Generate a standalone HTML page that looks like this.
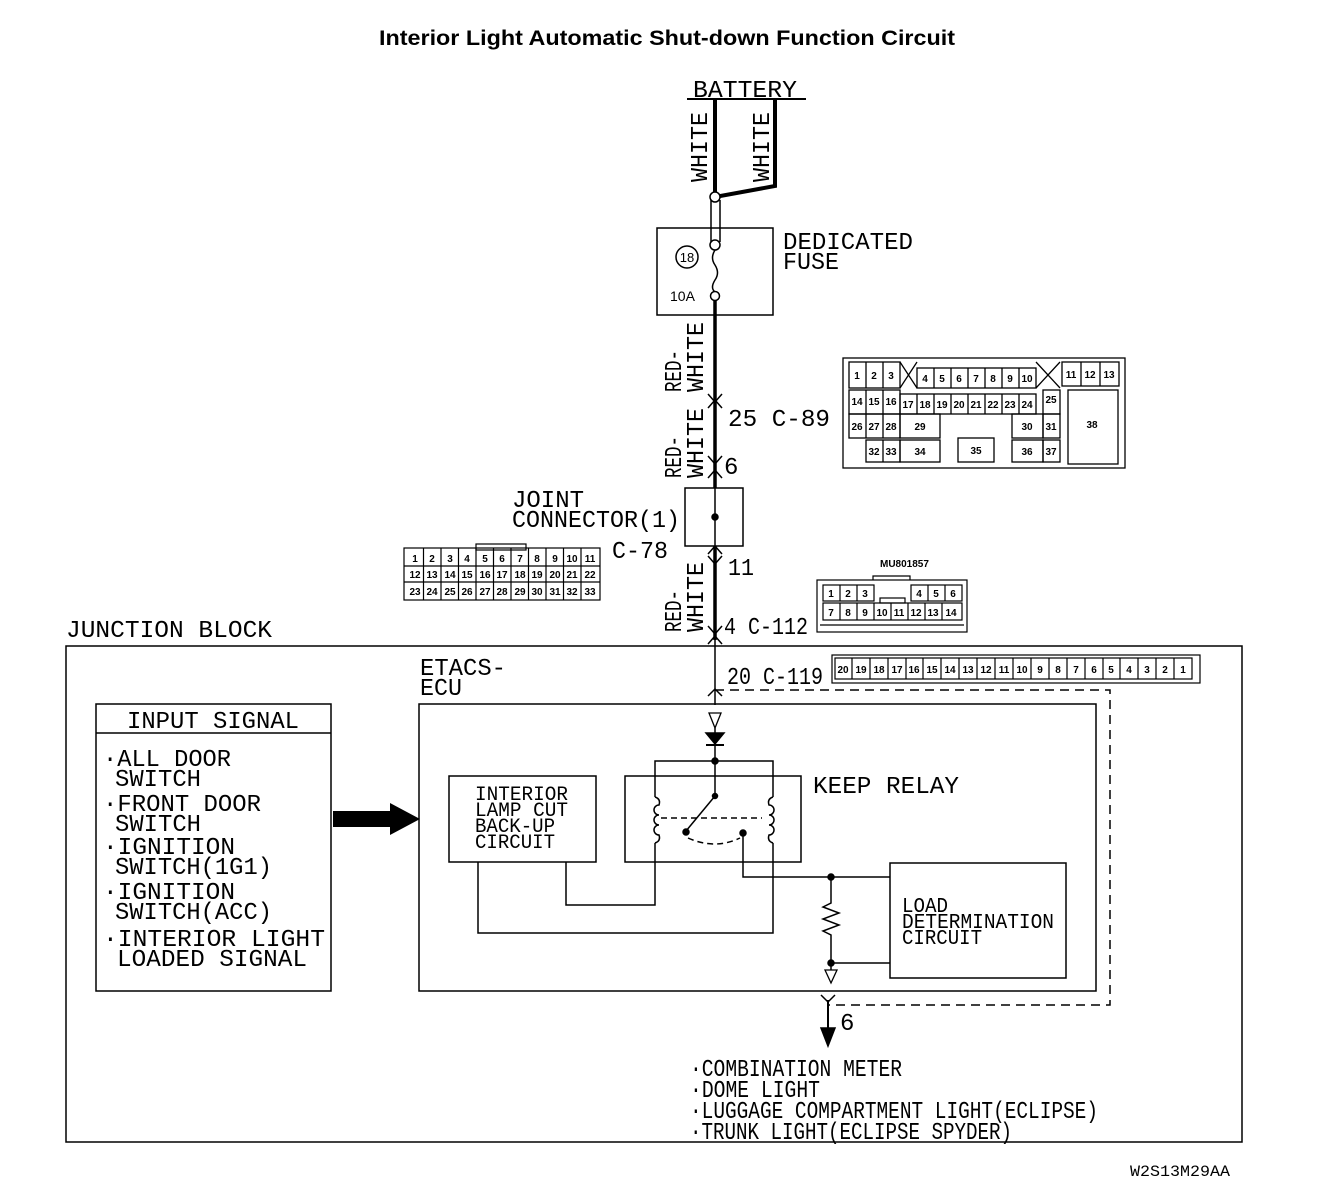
<!DOCTYPE html>
<html><head><meta charset="utf-8"><style>
html,body{margin:0;padding:0;background:#fff;}
svg{display:block;}
text{font-family:"Liberation Mono",monospace;fill:#000;}
.t{font-size:24px;}
.c{font-family:"Liberation Sans",sans-serif;font-size:10px;font-weight:bold;text-anchor:middle;}
</style></head><body>
<svg width="1328" height="1186" viewBox="0 0 1328 1186" xmlns="http://www.w3.org/2000/svg" fill="none" stroke="#000" stroke-width="1.5">
<text x="667" y="45" style="font-family:'Liberation Sans',sans-serif;font-size:21px;font-weight:bold;" text-anchor="middle" stroke="none" textLength="576" lengthAdjust="spacingAndGlyphs">Interior Light Automatic Shut-down Function Circuit</text>

<!-- battery -->
<text class="t" x="693" y="97" stroke="none" textLength="104" lengthAdjust="spacingAndGlyphs">BATTERY</text>
<line x1="687" y1="99" x2="806" y2="99" stroke-width="2"/>
<polyline points="715,99 715,197 775,186 775,99" stroke-width="4"/>
<text class="t" transform="translate(707,182) rotate(-90)" stroke="none" textLength="70" lengthAdjust="spacingAndGlyphs">WHITE</text>
<text class="t" transform="translate(769,182) rotate(-90)" stroke="none" textLength="70" lengthAdjust="spacingAndGlyphs">WHITE</text>
<line x1="711" y1="200" x2="711" y2="242"/><line x1="720" y1="200" x2="720" y2="242"/>
<circle cx="715" cy="197" r="5" fill="#fff"/><circle cx="715" cy="245" r="5" fill="#fff"/>
<!-- fuse -->
<rect x="657" y="228" width="116" height="87"/>
<circle cx="687" cy="257" r="11"/>
<text x="687" y="262" style="font-family:'Liberation Sans',sans-serif;font-size:13px" text-anchor="middle" stroke="none">18</text>
<text x="670" y="301" style="font-family:'Liberation Sans',sans-serif;font-size:14px" stroke="none">10A</text>
<path d="M715,250 q-5,8 0,15 q5,8 0,15 q-5,8 0,12"/>
<circle cx="715" cy="296" r="4.5" fill="#fff"/>
<text class="t" x="783" y="249" stroke="none" textLength="130" lengthAdjust="spacingAndGlyphs">DEDICATED</text>
<text class="t" x="783" y="269" stroke="none" textLength="56" lengthAdjust="spacingAndGlyphs">FUSE</text>

<!-- main wire -->
<line x1="715" y1="301" x2="715" y2="488" stroke-width="3.5"/>
<line x1="715" y1="546" x2="715" y2="640" stroke-width="3.5"/>
<line x1="715" y1="640" x2="715" y2="705" stroke-width="1.5"/>
<g stroke-width="1.5">
<polyline points="708,394 715,402 722,394"/><polyline points="708,408 715,400 722,408"/>
<polyline points="708,456 715,464 722,456"/><polyline points="708,478 715,470 722,478"/>
<polyline points="708,554 715,546 722,554"/><polyline points="708,556 715,564 722,556"/>
<polyline points="708,626 715,634 722,626"/><polyline points="708,644 715,636 722,644"/>
<polyline points="708,696 715,689 722,696"/>
</g>
<text class="t" transform="translate(681,392) rotate(-90)" stroke="none" textLength="42" lengthAdjust="spacingAndGlyphs">RED-</text>
<text class="t" transform="translate(703,392) rotate(-90)" stroke="none" textLength="70" lengthAdjust="spacingAndGlyphs">WHITE</text>
<text class="t" transform="translate(681,478) rotate(-90)" stroke="none" textLength="42" lengthAdjust="spacingAndGlyphs">RED-</text>
<text class="t" transform="translate(703,478) rotate(-90)" stroke="none" textLength="70" lengthAdjust="spacingAndGlyphs">WHITE</text>
<text class="t" transform="translate(681,632) rotate(-90)" stroke="none" textLength="42" lengthAdjust="spacingAndGlyphs">RED-</text>
<text class="t" transform="translate(703,632) rotate(-90)" stroke="none" textLength="70" lengthAdjust="spacingAndGlyphs">WHITE</text>
<text class="t" x="728" y="426" stroke="none" textLength="102" lengthAdjust="spacingAndGlyphs">25 C-89</text>
<text class="t" x="724" y="474" stroke="none">6</text>
<text class="t" x="728" y="575" stroke="none" textLength="26" lengthAdjust="spacingAndGlyphs">11</text>
<text class="t" x="724" y="634" stroke="none" textLength="84" lengthAdjust="spacingAndGlyphs">4 C-112</text>
<text class="t" x="727" y="684" stroke="none" textLength="96" lengthAdjust="spacingAndGlyphs">20 C-119</text>
<!-- joint connector -->
<rect x="685" y="488" width="58" height="58"/>
<circle cx="715" cy="517" r="3" fill="#000"/>
<line x1="715" y1="488" x2="715" y2="546"/>
<text class="t" x="512" y="507" stroke="none" textLength="72" lengthAdjust="spacingAndGlyphs">JOINT</text>
<text class="t" x="512" y="527" stroke="none" textLength="168" lengthAdjust="spacingAndGlyphs">CONNECTOR(1)</text>
<text class="t" x="612" y="558" stroke="none" textLength="56" lengthAdjust="spacingAndGlyphs">C-78</text>

<!-- C-89 connector -->
<g stroke-width="1.3">
<rect x="843" y="358" width="282" height="110"/>
<rect x="849" y="362" width="51" height="26"/><line x1="866" y1="362" x2="866" y2="388"/><line x1="883" y1="362" x2="883" y2="388"/>
<path d="M900,362 L917,388 M917,362 L900,388"/>
<rect x="917" y="368" width="119" height="20"/>
<line x1="934" y1="368" x2="934" y2="388"/><line x1="951" y1="368" x2="951" y2="388"/><line x1="968" y1="368" x2="968" y2="388"/><line x1="985" y1="368" x2="985" y2="388"/><line x1="1002" y1="368" x2="1002" y2="388"/><line x1="1019" y1="368" x2="1019" y2="388"/>
<path d="M1036,362 L1060,388 M1060,362 L1036,388"/>
<rect x="1062" y="362" width="57" height="24"/><line x1="1081" y1="362" x2="1081" y2="386"/><line x1="1100" y1="362" x2="1100" y2="386"/>
<rect x="849" y="390" width="51" height="24"/><line x1="866" y1="390" x2="866" y2="414"/><line x1="883" y1="390" x2="883" y2="414"/>
<rect x="900" y="394" width="136" height="20"/>
<line x1="917" y1="394" x2="917" y2="414"/><line x1="934" y1="394" x2="934" y2="414"/><line x1="951" y1="394" x2="951" y2="414"/><line x1="968" y1="394" x2="968" y2="414"/><line x1="985" y1="394" x2="985" y2="414"/><line x1="1002" y1="394" x2="1002" y2="414"/><line x1="1019" y1="394" x2="1019" y2="414"/>
<rect x="1043" y="390" width="17" height="24"/>
<rect x="1068" y="390" width="50" height="74"/>
<rect x="849" y="414" width="51" height="24"/><line x1="866" y1="414" x2="866" y2="438"/><line x1="883" y1="414" x2="883" y2="438"/>
<rect x="900" y="414" width="40" height="24"/><rect x="1012" y="414" width="31" height="24"/><rect x="1043" y="414" width="17" height="24"/>
<rect x="866" y="440" width="34" height="22"/><line x1="883" y1="440" x2="883" y2="462"/>
<rect x="900" y="440" width="40" height="22"/><rect x="958" y="438" width="36" height="24"/><rect x="1012" y="440" width="31" height="22"/><rect x="1043" y="440" width="17" height="22"/>
</g>
<g stroke="none">
<text class="c" x="857" y="379">1</text><text class="c" x="874" y="379">2</text><text class="c" x="891" y="379">3</text>
<text class="c" x="925" y="382">4</text><text class="c" x="942" y="382">5</text><text class="c" x="959" y="382">6</text><text class="c" x="976" y="382">7</text><text class="c" x="993" y="382">8</text><text class="c" x="1010" y="382">9</text><text class="c" x="1027" y="382">10</text>
<text class="c" x="1071" y="378">11</text><text class="c" x="1090" y="378">12</text><text class="c" x="1109" y="378">13</text>
<text class="c" x="857" y="405">14</text><text class="c" x="874" y="405">15</text><text class="c" x="891" y="405">16</text>
<text class="c" x="908" y="408">17</text><text class="c" x="925" y="408">18</text><text class="c" x="942" y="408">19</text><text class="c" x="959" y="408">20</text><text class="c" x="976" y="408">21</text><text class="c" x="993" y="408">22</text><text class="c" x="1010" y="408">23</text><text class="c" x="1027" y="408">24</text>
<text class="c" x="1051" y="403">25</text><text class="c" x="1092" y="428">38</text>
<text class="c" x="857" y="430">26</text><text class="c" x="874" y="430">27</text><text class="c" x="891" y="430">28</text>
<text class="c" x="920" y="430">29</text><text class="c" x="1027" y="430">30</text><text class="c" x="1051" y="430">31</text>
<text class="c" x="874" y="455">32</text><text class="c" x="891" y="455">33</text><text class="c" x="920" y="455">34</text><text class="c" x="976" y="454">35</text><text class="c" x="1027" y="455">36</text><text class="c" x="1051" y="455">37</text>
</g>

<!-- C-78 connector -->
<g stroke-width="1.2">
<rect x="476" y="544" width="50" height="6"/>
<rect x="404" y="548" width="196" height="52"/>
<line x1="404" y1="566" x2="600" y2="566"/><line x1="404" y1="582" x2="600" y2="582"/>
<path d="M423.5,548V600M441,548V600M458.5,548V600M476,548V600M493.5,548V600M511,548V600M528.5,548V600M546,548V600M563.5,548V600M581,548V600"/>
</g>
<g stroke="none">
<text class="c" x="415" y="562">1</text><text class="c" x="432" y="562">2</text><text class="c" x="450" y="562">3</text><text class="c" x="467" y="562">4</text><text class="c" x="485" y="562">5</text><text class="c" x="502" y="562">6</text><text class="c" x="520" y="562">7</text><text class="c" x="537" y="562">8</text><text class="c" x="555" y="562">9</text><text class="c" x="572" y="562">10</text><text class="c" x="590" y="562">11</text>
<text class="c" x="415" y="578">12</text><text class="c" x="432" y="578">13</text><text class="c" x="450" y="578">14</text><text class="c" x="467" y="578">15</text><text class="c" x="485" y="578">16</text><text class="c" x="502" y="578">17</text><text class="c" x="520" y="578">18</text><text class="c" x="537" y="578">19</text><text class="c" x="555" y="578">20</text><text class="c" x="572" y="578">21</text><text class="c" x="590" y="578">22</text>
<text class="c" x="415" y="595">23</text><text class="c" x="432" y="595">24</text><text class="c" x="450" y="595">25</text><text class="c" x="467" y="595">26</text><text class="c" x="485" y="595">27</text><text class="c" x="502" y="595">28</text><text class="c" x="520" y="595">29</text><text class="c" x="537" y="595">30</text><text class="c" x="555" y="595">31</text><text class="c" x="572" y="595">32</text><text class="c" x="590" y="595">33</text>
</g>

<!-- C-112 connector -->
<text x="880" y="567" class="c" style="font-size:10px;text-anchor:start" stroke="none">MU801857</text>
<g stroke-width="1.2">
<polyline points="873,580 873,576 910,576 910,580"/>
<rect x="817" y="580" width="150" height="52"/>
<rect x="823" y="585" width="51" height="16"/><line x1="840" y1="585" x2="840" y2="601"/><line x1="857" y1="585" x2="857" y2="601"/>
<rect x="911" y="585" width="51" height="16"/><line x1="928" y1="585" x2="928" y2="601"/><line x1="945" y1="585" x2="945" y2="601"/>
<rect x="880" y="598" width="25" height="5"/>
<rect x="823" y="603" width="139" height="17"/>
<path d="M840,603V620M857,603V620M874,603V620M891,603V620M908,603V620M925,603V620M942,603V620"/>
<line x1="820" y1="625" x2="964" y2="625"/>
</g>
<g stroke="none">
<text class="c" x="831" y="597">1</text><text class="c" x="848" y="597">2</text><text class="c" x="865" y="597">3</text>
<text class="c" x="919" y="597">4</text><text class="c" x="936" y="597">5</text><text class="c" x="953" y="597">6</text>
<text class="c" x="831" y="616">7</text><text class="c" x="848" y="616">8</text><text class="c" x="865" y="616">9</text><text class="c" x="882" y="616">10</text><text class="c" x="899" y="616">11</text><text class="c" x="916" y="616">12</text><text class="c" x="933" y="616">13</text><text class="c" x="951" y="616">14</text>
</g>

<!-- junction block -->
<text class="t" x="66" y="637" stroke="none" textLength="206" lengthAdjust="spacingAndGlyphs">JUNCTION BLOCK</text>
<rect x="66" y="646" width="1176" height="496"/>

<!-- C-119 connector -->
<g stroke-width="1.2">
<rect x="832" y="655" width="368" height="28"/>
<rect x="835" y="658" width="357" height="21"/>
<path d="M852,658V679M870,658V679M888,658V679M906,658V679M923,658V679M941,658V679M959,658V679M977,658V679M995,658V679M1013,658V679M1031,658V679M1049,658V679M1067,658V679M1085,658V679M1103,658V679M1120,658V679M1138,658V679M1156,658V679M1174,658V679"/>
</g>
<g stroke="none">
<text class="c" x="843" y="673">20</text><text class="c" x="861" y="673">19</text><text class="c" x="879" y="673">18</text><text class="c" x="897" y="673">17</text><text class="c" x="914" y="673">16</text><text class="c" x="932" y="673">15</text><text class="c" x="950" y="673">14</text><text class="c" x="968" y="673">13</text><text class="c" x="986" y="673">12</text><text class="c" x="1004" y="673">11</text><text class="c" x="1022" y="673">10</text><text class="c" x="1040" y="673">9</text><text class="c" x="1058" y="673">8</text><text class="c" x="1076" y="673">7</text><text class="c" x="1094" y="673">6</text><text class="c" x="1111" y="673">5</text><text class="c" x="1129" y="673">4</text><text class="c" x="1147" y="673">3</text><text class="c" x="1165" y="673">2</text><text class="c" x="1183" y="673">1</text>
</g>

<!-- ETACS ECU -->
<text class="t" x="420" y="675" stroke="none" textLength="86" lengthAdjust="spacingAndGlyphs">ETACS-</text>
<text class="t" x="420" y="695" stroke="none" textLength="42" lengthAdjust="spacingAndGlyphs">ECU</text>
<polyline points="715,690 1110,690 1110,1005 828,1005" stroke-dasharray="9,6"/>
<rect x="419" y="704" width="677" height="287"/>

<!-- input signal -->
<rect x="96" y="704" width="235" height="287"/>
<line x1="96" y1="733" x2="331" y2="733"/>
<text class="t" x="127" y="728" stroke="none" textLength="172" lengthAdjust="spacingAndGlyphs">INPUT SIGNAL</text>
<g stroke="none">
<text class="t" x="103" y="766" textLength="128" lengthAdjust="spacingAndGlyphs">·ALL DOOR</text>
<text class="t" x="115" y="786" textLength="86" lengthAdjust="spacingAndGlyphs">SWITCH</text>
<text class="t" x="103" y="811" textLength="158" lengthAdjust="spacingAndGlyphs">·FRONT DOOR</text>
<text class="t" x="115" y="831" textLength="86" lengthAdjust="spacingAndGlyphs">SWITCH</text>
<text class="t" x="103" y="854" textLength="132" lengthAdjust="spacingAndGlyphs">·IGNITION</text>
<text class="t" x="115" y="874" textLength="157" lengthAdjust="spacingAndGlyphs">SWITCH(1G1)</text>
<text class="t" x="103" y="899" textLength="132" lengthAdjust="spacingAndGlyphs">·IGNITION</text>
<text class="t" x="115" y="919" textLength="157" lengthAdjust="spacingAndGlyphs">SWITCH(ACC)</text>
<text class="t" x="103" y="946" textLength="222" lengthAdjust="spacingAndGlyphs">·INTERIOR LIGHT</text>
<text class="t" x="117" y="966" textLength="190" lengthAdjust="spacingAndGlyphs">LOADED SIGNAL</text>
</g>
<rect x="333" y="811" width="60" height="16" fill="#000" stroke="none"/>
<polygon points="390,803 420,819 390,835" fill="#000" stroke="none"/>

<!-- interior lamp cut -->
<rect x="449" y="776" width="147" height="86"/>
<g stroke="none">
<text class="t" x="475" y="800" style="font-size:20px" textLength="93" lengthAdjust="spacingAndGlyphs">INTERIOR</text>
<text class="t" x="475" y="816" style="font-size:20px" textLength="93" lengthAdjust="spacingAndGlyphs">LAMP CUT</text>
<text class="t" x="475" y="832" style="font-size:20px" textLength="80" lengthAdjust="spacingAndGlyphs">BACK-UP</text>
<text class="t" x="475" y="848" style="font-size:20px" textLength="80" lengthAdjust="spacingAndGlyphs">CIRCUIT</text>
</g>

<!-- keep relay -->
<polygon points="709,713 721,713 715,728" stroke-width="1.3"/>
<line x1="715" y1="728" x2="715" y2="796"/>
<polygon points="706,733 724,733 715,744" fill="#000"/>
<line x1="706" y1="745" x2="724" y2="745" stroke-width="2"/>
<polyline points="655,797 655,761 773,761 773,797"/>
<circle cx="715" cy="761" r="3" fill="#000"/>
<rect x="625" y="776" width="176" height="86"/>
<path d="M655,797 q6,2 4,8 a5,5 0 1 0 0,10 a5,5 0 1 0 0,10 a5,5 0 1 0 0,10 q2,6 -4,8"/>
<path d="M773,797 q-6,2 -4,8 a5,5 0 1 1 0,10 a5,5 0 1 1 0,10 a5,5 0 1 1 0,10 q-2,6 4,8"/>
<line x1="715" y1="796" x2="686" y2="831"/>
<circle cx="715" cy="796" r="2.5" fill="#000"/>
<circle cx="686" cy="832" r="3" fill="#000"/><circle cx="743" cy="833" r="3" fill="#000"/>
<line x1="661" y1="818" x2="762" y2="818" stroke-dasharray="6,4"/>
<path d="M688,838 Q715,850 740,838" stroke-dasharray="6,4"/>
<text class="t" x="813" y="793" stroke="none" textLength="146" lengthAdjust="spacingAndGlyphs">KEEP RELAY</text>
<polyline points="655,843 655,905 566,905 566,862"/>
<polyline points="478,862 478,933 773,933 773,843"/>
<polyline points="743,833 743,877 890,877"/>
<circle cx="831" cy="877" r="3" fill="#000"/>
<polyline points="831,877 831,903 823,907 839,913 823,919 839,925 823,931 831,935 831,963"/>
<circle cx="831" cy="963" r="3" fill="#000"/>
<line x1="831" y1="963" x2="890" y2="963"/>
<line x1="831" y1="963" x2="831" y2="970"/>
<polygon points="825,970 837,970 831,983" stroke-width="1.3"/>
<rect x="890" y="863" width="176" height="115"/>
<g stroke="none">
<text class="t" x="902" y="912" style="font-size:21px" textLength="46" lengthAdjust="spacingAndGlyphs">LOAD</text>
<text class="t" x="902" y="928" style="font-size:21px" textLength="152" lengthAdjust="spacingAndGlyphs">DETERMINATION</text>
<text class="t" x="902" y="944" style="font-size:21px" textLength="80" lengthAdjust="spacingAndGlyphs">CIRCUIT</text>
</g>

<!-- output -->
<polyline points="821,995 828,1002 835,995"/>
<line x1="828" y1="1000" x2="828" y2="1030" stroke-width="2"/>
<polygon points="821,1028 835,1028 828,1046" fill="#000"/>
<text class="t" x="840" y="1030" stroke="none">6</text>
<g stroke="none">
<text class="t" x="690" y="1076" textLength="212" lengthAdjust="spacingAndGlyphs">·COMBINATION METER</text>
<text class="t" x="690" y="1097" textLength="130" lengthAdjust="spacingAndGlyphs">·DOME LIGHT</text>
<text class="t" x="690" y="1118" textLength="408" lengthAdjust="spacingAndGlyphs">·LUGGAGE COMPARTMENT LIGHT(ECLIPSE)</text>
<text class="t" x="690" y="1139" textLength="322" lengthAdjust="spacingAndGlyphs">·TRUNK LIGHT(ECLIPSE SPYDER)</text>
</g>
<text x="1130" y="1176" style="font-size:16px" stroke="none" textLength="100" lengthAdjust="spacingAndGlyphs">W2S13M29AA</text>
</svg>
</body></html>
